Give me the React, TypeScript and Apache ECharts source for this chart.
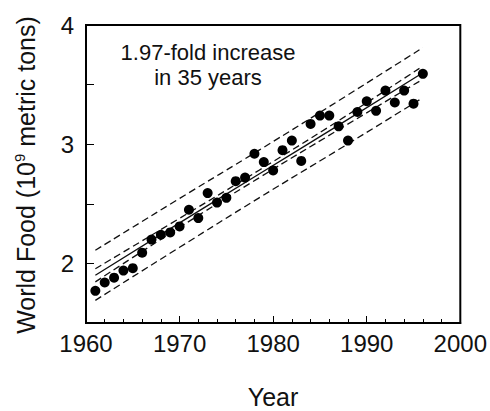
import React, { useEffect, useRef } from "react";
import * as echarts from "echarts";

const years = [
  1961, 1962, 1963, 1964, 1965, 1966, 1967, 1968, 1969, 1970, 1971, 1972,
  1973, 1974, 1975, 1976, 1977, 1978, 1979, 1980, 1981, 1982, 1983, 1984,
  1985, 1986, 1987, 1988, 1989, 1990, 1991, 1992, 1993, 1994, 1995, 1996,
];
const food = [
  1.77, 1.84, 1.88, 1.94, 1.96, 2.09, 2.2, 2.24, 2.26, 2.31, 2.45, 2.38,
  2.59, 2.51, 2.55, 2.69, 2.72, 2.92, 2.85, 2.78, 2.95, 3.03, 2.86, 3.17,
  3.24, 3.24, 3.15, 3.03, 3.27, 3.36, 3.28, 3.45, 3.35, 3.45, 3.34, 3.59,
];

const bandYears = [1961, 1970, 1978.5, 1987, 1996];
const fit = [1.9, 2.34, 2.75, 3.16, 3.6];
const confUpper = [1.955, 2.378, 2.782, 3.198, 3.655];
const confLower = [1.845, 2.302, 2.718, 3.122, 3.545];
const predUpper = [2.11, 2.545, 2.95, 3.365, 3.81];
const predLower = [1.69, 2.135, 2.55, 2.955, 3.39];

const yTickLabels = ["2", "3", "4"];
const FONT = "Liberation Sans, Arial, Helvetica, sans-serif";

const pairs = (xs: number[], ys: number[]) => xs.map((x, i) => [x, ys[i]]);

export default function App() {
  const ref = useRef<HTMLDivElement>(null);
  useEffect(() => {
    if (!ref.current) return;
    const chart = echarts.init(ref.current, undefined, { renderer: "svg" });
    const lineSeries = (data: number[], dashed: boolean) => ({
      type: "line",
      data: pairs(bandYears, data),
      symbol: "none",
      smooth: true,
      lineStyle: { color: "#111", width: 1.3, type: dashed ? [7, 4] : "solid" },
      z: 2,
    });
    chart.setOption({
      animation: false,
      grid: {
        left: 86,
        right: 29,
        top: 25,
        bottom: 88,
        show: true,
        borderColor: "#000",
        borderWidth: 2,
        backgroundColor: "transparent",
      },
      xAxis: {
        type: "value",
        min: 1960,
        max: 2000,
        interval: 10,
        axisLine: { show: true, lineStyle: { color: "#000", width: 2 } },
        axisTick: { show: true, inside: true, length: 7, lineStyle: { color: "#000", width: 1 } },
        minorTick: { show: true, splitNumber: 5, length: 4, lineStyle: { color: "#000", width: 1 } },
        splitLine: { show: false },
        axisLabel: {
          color: "#111",
          fontSize: 24,
          fontFamily: FONT,
          margin: 8,
          formatter: (v: number) => String(v),
        },
      },
      yAxis: {
        type: "value",
        min: 1.5,
        max: 4,
        interval: 0.5,
        axisLine: { show: true, lineStyle: { color: "#000", width: 2 } },
        axisTick: { show: true, inside: true, length: 8, lineStyle: { color: "#000", width: 1 } },
        splitLine: { show: false },
        axisLabel: {
          color: "#111",
          fontSize: 24,
          fontFamily: FONT,
          margin: 12,
          formatter: (v: number) => {
            const s = String(v);
            return yTickLabels.includes(s) ? s : "";
          },
        },
      },
      series: [
        lineSeries(predUpper, true),
        lineSeries(confUpper, true),
        lineSeries(fit, false),
        lineSeries(confLower, true),
        lineSeries(predLower, true),
        {
          type: "scatter",
          data: pairs(years, food),
          symbol: "circle",
          symbolSize: 10,
          itemStyle: { color: "#000", opacity: 1 },
          z: 3,
        },
      ],
      graphic: [
        {
          type: "text",
          x: 208,
          y: 64.5,
          style: {
            text: "1.97-fold increase\nin 35 years",
            fontSize: 22,
            lineHeight: 25,
            fontFamily: FONT,
            fill: "#111",
            textAlign: "center",
            textVerticalAlign: "middle",
          },
        },
        {
          type: "text",
          x: 273,
          y: 397,
          style: {
            text: "Year",
            fontSize: 25,
            fontFamily: FONT,
            fill: "#111",
            textAlign: "center",
            textVerticalAlign: "middle",
          },
        },
        {
          type: "text",
          x: 26,
          y: 175,
          rotation: Math.PI / 2,
          style: {
            text: "World Food (10{sup|9} metric tons)",
            fontSize: 25,
            fontFamily: FONT,
            fill: "#111",
            textAlign: "center",
            textVerticalAlign: "middle",
            rich: {
              sup: { fontSize: 15, fontFamily: FONT, fill: "#111", verticalAlign: "top", lineHeight: 28 },
            },
          },
        },
      ],
    });
    return () => chart.dispose();
  }, []);
  return (
    <div
      ref={ref}
      style={{ position: "fixed", left: 0, top: 0, width: 490, height: 411, background: "#fff" }}
    />
  );
}
